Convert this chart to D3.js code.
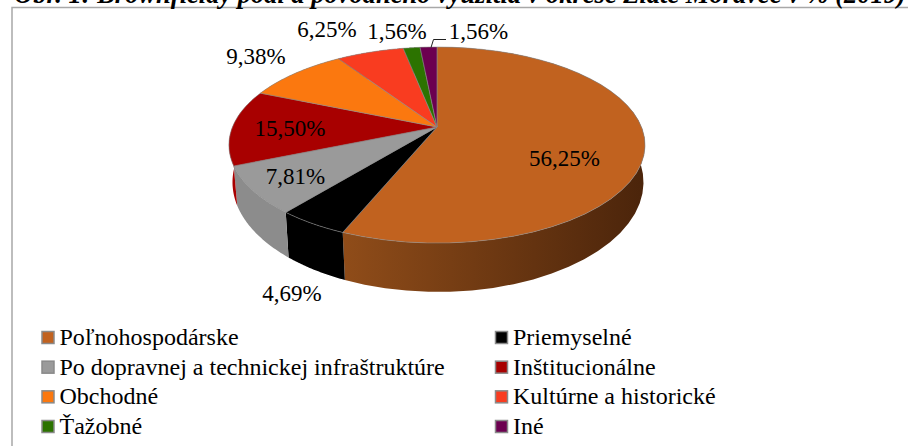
<!DOCTYPE html>
<html>
<head>
<meta charset="utf-8">
<script src="https://cdn.jsdelivr.net/npm/d3@7"></script>
<style>
body { margin: 0; background: #fff; }
svg { display: block; }
text { font-family: "Liberation Serif", serif; fill: #000; }
</style>
</head>
<body>
<svg width="908" height="446"></svg>
<script>
var categories = ["Poľnohospodárske", "Priemyselné", "Po dopravnej a technickej infraštruktúre", "Inštitucionálne",
                  "Obchodné", "Kultúrne a historické", "Ťažobné", "Iné"];
// slice sizes as drawn; the red slice is drawn as 12,5 although it is labelled 15,50%
var sliceValues = [56.25, 4.69, 7.81, 12.5, 9.38, 6.25, 1.56, 1.56];
var valueLabels = ["56,25%", "4,69%", "7,81%", "15,50%", "9,38%", "6,25%", "1,56%", "1,56%"];
var colors = ["#c1621f", "#000000", "#9a9a9a", "#a80000", "#fb780f", "#f93c20", "#2c7300", "#6c0050"];
var sideColors = [["#8f4c19", "#4c250b"], ["#000000", "#000000"], ["#8c8c8c", "#8c8c8c"], ["#a80000", "#a80000"],
                  ["#b05a10", "#b05a10"], ["#b02a14", "#b02a14"], ["#1f5000", "#1f5000"], ["#4a0037", "#4a0037"]];
var labelX = [564.5, 292, 295.5, 290, 256, 327, 397, 478.5];
var labelY = [166, 300.5, 184, 136, 64, 37, 39, 39];
var title = "Obr. 1: Brownfieldy podľa pôvodného využitia v okrese Zlaté Moravce v % (2019)";

var svg = d3.select("svg");

// perspektiva disku, y > 0 je smerom k divakovi
function project(disc, angle) {
    var x = Math.sin(angle), y = -Math.cos(angle);
    return [disc.cx + disc.a * x / (1 - disc.p * y), disc.cy + disc.b * y / (1 - disc.p * y)];
}
var topDisc = { cx: 437, cy: 127, a: 204.5, b: 94.7, p: 0.184 };
var lowDisc = { cx: 438, cy: 162, a: 202, b: 106, p: 0.184 };

var pie = d3.pie().sort(null).value(function(d) { return d; });
var arcs = pie(sliceValues);
var line = d3.line();

function arcPoints(disc, d) {
    return d3.range(0, 41).map(function(i) {
        return project(disc, d.startAngle + (d.endAngle - d.startAngle) * i / 40);
    });
}

var defs = svg.append("defs");
sideColors.forEach(function(c, i) {
    var g = defs.append("linearGradient").attr("id", "side" + i)
        .attr("gradientUnits", "userSpaceOnUse")
        .attr("x1", 345).attr("x2", 640).attr("y1", 0).attr("y2", 0);
    g.append("stop").attr("offset", "0").attr("stop-color", c[0]);
    g.append("stop").attr("offset", "1").attr("stop-color", c[1]);
});

// ramik grafu
svg.append("path")
    .attr("d", "M12,446V7.5H908")
    .attr("fill", "none").attr("stroke", "#a8a8a8").attr("stroke-width", 1.5);

svg.append("text")
    .attr("x", 14).attr("y", 3)
    .attr("font-size", 26.5).attr("font-weight", "bold").attr("font-style", "italic")
    .text(title);

// bocne steny
svg.append("g").selectAll("path")
    .data(arcs)
    .enter().append("path")
    .attr("d", function(d) {
        return line(arcPoints(topDisc, d).concat(arcPoints(lowDisc, d).reverse())) + "Z";
    })
    .attr("fill", function(d, i) { return "url(#side" + i + ")"; });

// horna plocha
svg.append("g").selectAll("path")
    .data(arcs)
    .enter().append("path")
    .attr("d", function(d) {
        return line([[topDisc.cx, topDisc.cy]].concat(arcPoints(topDisc, d))) + "Z";
    })
    .attr("fill", function(d, i) { return colors[i]; })
    .attr("stroke", "#8a8a8a").attr("stroke-width", 0.6);

// odkazova ciara k poslednemu popisku
svg.append("path")
    .attr("d", "M431,47.5L433.5,39.5H446")
    .attr("fill", "none").attr("stroke", "#202020").attr("stroke-width", 1);

svg.append("g").selectAll("text")
    .data(valueLabels)
    .enter().append("text")
    .attr("x", function(d, i) { return labelX[i]; })
    .attr("y", function(d, i) { return labelY[i]; })
    .attr("text-anchor", "middle")
    .attr("font-size", 23)
    .text(function(d) { return d; });

// legenda
var legendX = d3.scaleOrdinal().domain([0, 1]).range([42, 495.5]);
var legendY = d3.scaleLinear().domain([0, 3]).range([337.5, 426.5]);
var legend = svg.append("g").selectAll("g")
    .data(categories)
    .enter().append("g")
    .attr("transform", function(d, i) { return "translate(" + legendX(i % 2) + "," + legendY(Math.floor(i / 2)) + ")"; });
legend.append("rect")
    .attr("x", 0).attr("y", -6).attr("width", 12).attr("height", 12)
    .attr("fill", function(d, i) { return colors[i]; })
    .attr("stroke", "#8a8a8a").attr("stroke-width", 1.5);
legend.append("text")
    .attr("x", 17.5).attr("y", 7.5)
    .attr("font-size", 24)
    .text(function(d) { return d; });
</script>
</body>
</html>
